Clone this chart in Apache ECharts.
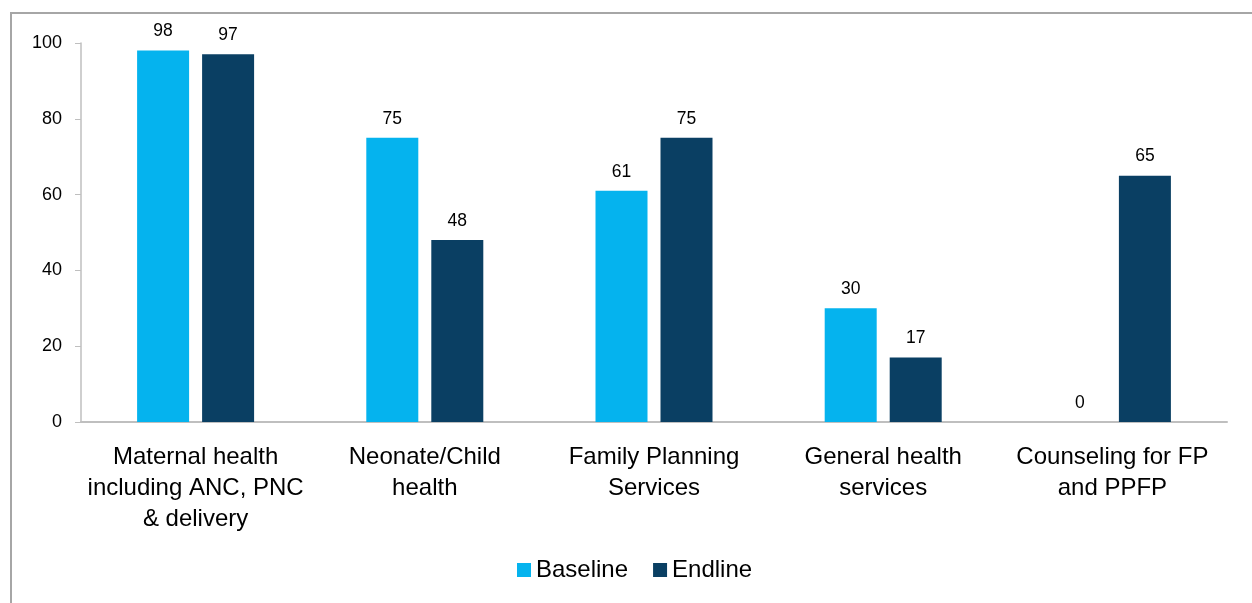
<!DOCTYPE html>
<html><head><meta charset="utf-8">
<script src="https://cdn.jsdelivr.net/npm/echarts@6/dist/echarts.min.js"></script>
<style>html,body{margin:0;padding:0;background:#fff}#c{width:1252px;height:603px}</style>
</head><body><div id="c"></div>
<script>
const categories = ["Maternal health\nincluding ANC, PNC\n& delivery", "Neonate/Child\nhealth", "Family Planning\nServices", "General health\nservices", "Counseling for FP\nand PPFP"];
const baseline = [98, 75, 61, 30, 0];
const endline = [97, 48, 75, 17, 65];
const yTicks = [0, 20, 40, 60, 80, 100];

const chart = echarts.init(document.getElementById('c'), null, {renderer: 'canvas'});
const font = '"Liberation Sans", Arial, sans-serif';
chart.setOption({
  animation: false,
  textStyle: {fontFamily: font},
  graphic: [{type: 'rect', shape: {x: 11, y: 13, width: 1300, height: 700}, style: {fill: 'none', stroke: '#a6a6a6', lineWidth: 2}, silent: true}],
  grid: {left: 81, right: 25, top: 43, bottom: 181, containLabel: false},
  legend: {top: 558, left: 517, padding: 0, itemWidth: 14, itemHeight: 14, itemGap: 25, icon: 'rect',
    textStyle: {fontSize: 24, color: '#000', fontFamily: font},
    data: ['Baseline', 'Endline']},
  xAxis: {type: 'category', data: categories,
    axisLine: {lineStyle: {color: '#bfbfbf', width: 2}}, axisTick: {show: false},
    axisLabel: {fontSize: 24, color: '#000', lineHeight: 31, margin: 20, interval: 0, fontFamily: font}},
  yAxis: {type: 'value', min: yTicks[0], max: yTicks[yTicks.length-1], interval: 20,
    axisLine: {show: true, lineStyle: {color: '#bfbfbf', width: 1.5}},
    axisTick: {show: true, length: 6, lineStyle: {color: '#bfbfbf'}},
    splitLine: {show: false},
    axisLabel: {fontSize: 18, color: '#000', margin: 19, fontFamily: font}},
  series: [
    {name: 'Baseline', type: 'bar', data: baseline, barWidth: 52, barGap: '25%',
     itemStyle: {color: '#05b3ee'},
     label: {show: true, position: 'top', distance: 10, fontSize: 17.5, color: '#000', fontFamily: font}},
    {name: 'Endline', type: 'bar', data: endline, barWidth: 52,
     itemStyle: {color: '#0a3f63'},
     label: {show: true, position: 'top', distance: 10, fontSize: 17.5, color: '#000', fontFamily: font}}
  ]
});
</script></body></html>
